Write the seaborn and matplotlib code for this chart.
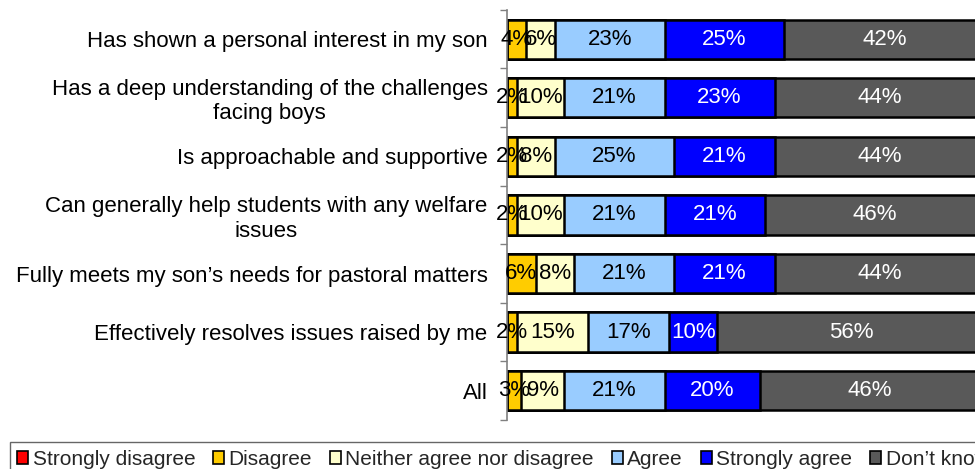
import matplotlib
matplotlib.use("Agg")
import matplotlib.pyplot as plt
from matplotlib.patches import Patch
import numpy as np
import pandas as pd
import seaborn as sns

STATEMENTS = [
    "Has shown a personal interest in my son",
    "Has a deep understanding of the challenges\nfacing boys",
    "Is approachable and supportive",
    "Can generally help students with any welfare\nissues",
    "Fully meets my son\u2019s needs for pastoral matters",
    "Effectively resolves issues raised by me",
    "All",
]
RESPONSES = ["Strongly disagree", "Disagree", "Neither agree nor disagree",
             "Agree", "Strongly agree", "Don\u2019t know"]
STRONGLY_DISAGREE = [0, 0, 0, 0, 0, 0, 0]
DISAGREE          = [4, 2, 2, 2, 6, 2, 3]
NEITHER           = [6, 10, 8, 10, 8, 15, 9]
AGREE             = [23, 21, 25, 21, 21, 17, 21]
STRONGLY_AGREE    = [25, 23, 21, 21, 21, 10, 20]
DONT_KNOW         = [42, 44, 44, 46, 44, 56, 46]

COLORS = ["#FF0000", "#FFCC00", "#FFFFCC", "#99CCFF", "#0000FF", "#595959"]
TEXT_COLORS = ["white", "black", "black", "black", "white", "white"]

sns.set_theme(style="white")
plt.rcParams["font.family"] = ["Liberation Sans", "DejaVu Sans"]

values = np.array([STRONGLY_DISAGREE, DISAGREE, NEITHER, AGREE,
                   STRONGLY_AGREE, DONT_KNOW], dtype=float)
cum = values.cumsum(axis=0)
df = pd.DataFrame(cum.T, columns=RESPONSES)
df["statement"] = STATEMENTS

fig = plt.figure(figsize=(9.75, 4.69), dpi=100)
ax = fig.add_axes([0.52, 0.1045, 0.49, 0.8745])

# stacked bars: draw cumulative totals from the widest layer down
for k in range(len(RESPONSES) - 1, -1, -1):
    sns.barplot(data=df, x=RESPONSES[k], y="statement", orient="h", ax=ax,
                color=COLORS[k], saturation=1, width=0.67,
                edgecolor="black", linewidth=1.8)

for k in range(len(RESPONSES)):
    for i in range(len(STATEMENTS)):
        v = values[k, i]
        if v <= 0:
            continue
        ax.text(cum[k, i] - v / 2, i, f"{v:.0f}%", ha="center", va="center",
                fontsize=16, color=TEXT_COLORS[k])

ax.set_xlim(0, 100)
ax.set_ylim(len(STATEMENTS) - 0.5, -0.5)
ax.set_xlabel("")
ax.set_ylabel("")
ax.set_xticks([])
ax.tick_params(axis="y", which="major", length=0, labelsize=16, pad=14,
               labelcolor="black")
ax.set_yticks(np.arange(len(STATEMENTS) + 1) - 0.5, minor=True)
ax.tick_params(axis="y", which="minor", length=5, color="#808080",
               direction="out", left=True)
for lbl in ax.get_yticklabels():
    lbl.set_multialignment("center")
for side in ["top", "right", "bottom"]:
    ax.spines[side].set_visible(False)
ax.spines["left"].set_color("#808080")
ax.spines["left"].set_linewidth(1.2)

handles = [Patch(facecolor=c, edgecolor="black", linewidth=1.2) for c in COLORS]
leg = fig.legend(handles, RESPONSES, loc="lower left", bbox_to_anchor=(0.01, -0.015),
                 ncol=6, frameon=True, fancybox=False,
                 handlelength=0.55, handleheight=0.55, handletextpad=0.2,
                 columnspacing=0.85, borderpad=0.35, borderaxespad=0,
                 prop={"family": ["Liberation Sans"], "size": 15})
leg.get_frame().set_edgecolor("#404040")
leg.get_frame().set_linewidth(1.0)

fig.savefig("out.png", dpi=100)
